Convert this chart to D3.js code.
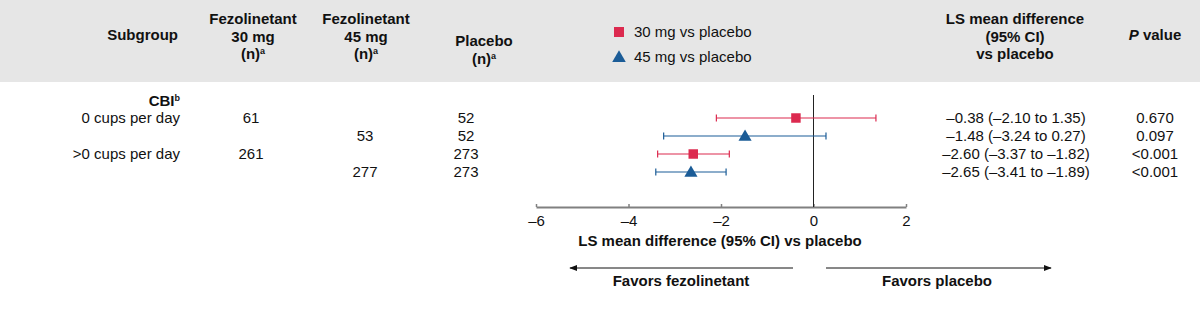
<!DOCTYPE html>
<html>
<head>
<meta charset="utf-8">
<script src="https://cdn.jsdelivr.net/npm/d3@7"></script>
<style>
  html, body { margin: 0; padding: 0; background: #fff; }
  svg { display: block; font-family: "Liberation Sans", Arial, sans-serif; }
</style>
</head>
<body>
<div id="chart"></div>
<script>
const width = 1200, height = 322;
const fs = 15;

// data
const subgroups = ["0 cups per day", "", ">0 cups per day", ""];
const doses = ["30 mg", "45 mg", "30 mg", "45 mg"];
const n30 = ["61", "", "261", ""];
const n45 = ["", "53", "", "277"];
const nPlacebo = ["52", "52", "273", "273"];
const estimates = [-0.38, -1.48, -2.60, -2.65];
const ciLow = [-2.10, -3.24, -3.37, -3.41];
const ciHigh = [1.35, 0.27, -1.82, -1.89];
const ciText = ["\u20130.38 (\u20132.10 to 1.35)", "\u20131.48 (\u20133.24 to 0.27)",
                "\u20132.60 (\u20133.37 to \u20131.82)", "\u20132.65 (\u20133.41 to \u20131.89)"];
const pValues = ["0.670", "0.097", "<0.001", "<0.001"];
const xTicks = [-6, -4, -2, 0, 2];

const red = "#dc2a4f", blue = "#1b5c97";
const colorOf = d => d === "30 mg" ? red : blue;

const rows = estimates.map((e, i) => ({
  i, est: e, lo: ciLow[i], hi: ciHigh[i], dose: doses[i],
  sub: subgroups[i], n30: n30[i], n45: n45[i], np: nPlacebo[i],
  ci: ciText[i], p: pValues[i]
}));

const svg = d3.select("#chart").append("svg")
  .attr("width", width).attr("height", height);

// header band
svg.append("rect").attr("x", 0).attr("y", 0).attr("width", width).attr("height", 82)
  .attr("fill", "#e6e6e6");

const x = d3.scaleLinear().domain([-6, 2]).range([536, 906]);
const y = d3.scaleBand().domain(d3.range(rows.length)).range([109, 181]);
const yc = i => y(i) + y.bandwidth() / 2;

// header text
function header(lines, cx, y0, anchor) {
  const t = svg.append("text").attr("text-anchor", anchor || "middle")
    .attr("font-weight", "bold").attr("font-size", fs).attr("fill", "#111");
  lines.forEach((l, k) => {
    const ts = t.append("tspan").attr("x", cx).attr("y", y0 + k * 17.5);
    if (l === "(n)a") {
      ts.text("(n)");
      t.append("tspan").attr("font-size", 9).attr("dy", -5).text("a");
    } else if (l === "P value") {
      ts.append("tspan").attr("font-style", "italic").text("P");
      ts.append("tspan").text(" value");
    } else ts.text(l);
  });
}
header(["Subgroup"], 178, 40, "end");
header(["Fezolinetant", "30 mg", "(n)a"], 253, 24);
header(["Fezolinetant", "45 mg", "(n)a"], 366, 24);
header(["Placebo", "(n)a"], 484, 46);
header(["LS mean difference", "(95% CI)", "vs placebo"], 1015, 24);
header(["P value"], 1155, 40);

// legend
const legend = [["30 mg", "30 mg vs placebo", 32], ["45 mg", "45 mg vs placebo", 57]];
legend.forEach(([d, label, ly]) => {
  svg.append("path")
    .attr("d", d3.symbol().type(d === "30 mg" ? d3.symbolSquare : d3.symbolTriangle).size(d === "30 mg" ? 100 : 80)())
    .attr("transform", `translate(619,${ly + (d === "30 mg" ? 0 : 1)})`)
    .attr("fill", colorOf(d));
  svg.append("text").attr("x", 634).attr("y", ly + 5).attr("font-size", fs)
    .attr("fill", "#111").text(label);
});

// subgroup label
const cbi = svg.append("text").attr("x", 180).attr("y", 106).attr("text-anchor", "end")
  .attr("font-size", fs).attr("font-weight", "bold").attr("fill", "#111");
cbi.append("tspan").text("CBI");
cbi.append("tspan").attr("font-size", 9).attr("dy", -5).text("b");

// table columns
const cols = [["sub", 180, "end"], ["n30", 251, "middle"], ["n45", 365, "middle"],
              ["np", 466, "middle"], ["ci", 1016, "middle"], ["p", 1155, "middle"]];
cols.forEach(([key, cx, anchor]) => {
  svg.selectAll(null).data(rows).enter().append("text")
    .attr("x", cx).attr("y", d => yc(d.i) + 5)
    .attr("text-anchor", anchor).attr("font-size", fs).attr("fill", "#111")
    .text(d => d[key]);
});

// axis
const axis = svg.append("g").attr("transform", "translate(0,207)")
  .call(d3.axisBottom(x).tickValues(xTicks).tickSizeInner(-3).tickSizeOuter(0)
    .tickPadding(8).tickFormat(d => d < 0 ? "\u2013" + Math.abs(d) : d));
axis.select(".domain").attr("stroke", "#808080").attr("stroke-width", 2);
axis.selectAll(".tick line").attr("stroke", "#808080").attr("stroke-width", 1.5);
axis.selectAll(".tick text").attr("font-size", fs).attr("fill", "#111")
  .attr("font-family", "Liberation Sans, Arial, sans-serif");

// zero line
svg.append("line").attr("x1", x(0)).attr("x2", x(0)).attr("y1", 95).attr("y2", 207)
  .attr("stroke", "#222").attr("stroke-width", 1);

// CIs
const ci = svg.selectAll(".ci").data(rows).enter().append("g").attr("class", "ci")
  .attr("stroke", d => colorOf(d.dose)).attr("stroke-width", 1.2);
ci.append("line").attr("x1", d => x(d.lo)).attr("x2", d => x(d.hi))
  .attr("y1", d => yc(d.i)).attr("y2", d => yc(d.i));
ci.append("line").attr("x1", d => x(d.lo)).attr("x2", d => x(d.lo))
  .attr("y1", d => yc(d.i) - 3.5).attr("y2", d => yc(d.i) + 3.5);
ci.append("line").attr("x1", d => x(d.hi)).attr("x2", d => x(d.hi))
  .attr("y1", d => yc(d.i) - 3.5).attr("y2", d => yc(d.i) + 3.5);

// markers
svg.selectAll(".pt").data(rows).enter().append("path").attr("class", "pt")
  .attr("d", d => d3.symbol().type(d.dose === "30 mg" ? d3.symbolSquare : d3.symbolTriangle)
    .size(d.dose === "30 mg" ? 90 : 75)())
  .attr("transform", d => `translate(${x(d.est)},${yc(d.i) + (d.dose === "30 mg" ? 0 : 1)})`)
  .attr("fill", d => colorOf(d.dose));

// axis title
svg.append("text").attr("x", 720).attr("y", 246).attr("text-anchor", "middle")
  .attr("font-size", fs).attr("font-weight", "bold").attr("fill", "#111")
  .text("LS mean difference (95% CI) vs placebo");

// favors arrows
const defs = svg.append("defs");
defs.append("marker").attr("id", "arrow").attr("viewBox", "0 0 10 10")
  .attr("refX", 9).attr("refY", 5).attr("markerWidth", 8).attr("markerHeight", 8)
  .attr("orient", "auto-start-reverse")
  .append("path").attr("d", "M0,1 L10,5 L0,9 Z").attr("fill", "#111");
svg.append("line").attr("x1", 793).attr("x2", 570).attr("y1", 268).attr("y2", 268)
  .attr("stroke", "#111").attr("stroke-width", 1).attr("marker-end", "url(#arrow)");
svg.append("line").attr("x1", 826).attr("x2", 1051).attr("y1", 268).attr("y2", 268)
  .attr("stroke", "#111").attr("stroke-width", 1).attr("marker-end", "url(#arrow)");
svg.append("text").attr("x", 681).attr("y", 286).attr("text-anchor", "middle")
  .attr("font-size", fs).attr("font-weight", "bold").attr("fill", "#111")
  .text("Favors fezolinetant");
svg.append("text").attr("x", 937).attr("y", 286).attr("text-anchor", "middle")
  .attr("font-size", fs).attr("font-weight", "bold").attr("fill", "#111")
  .text("Favors placebo");
</script>
</body>
</html>
